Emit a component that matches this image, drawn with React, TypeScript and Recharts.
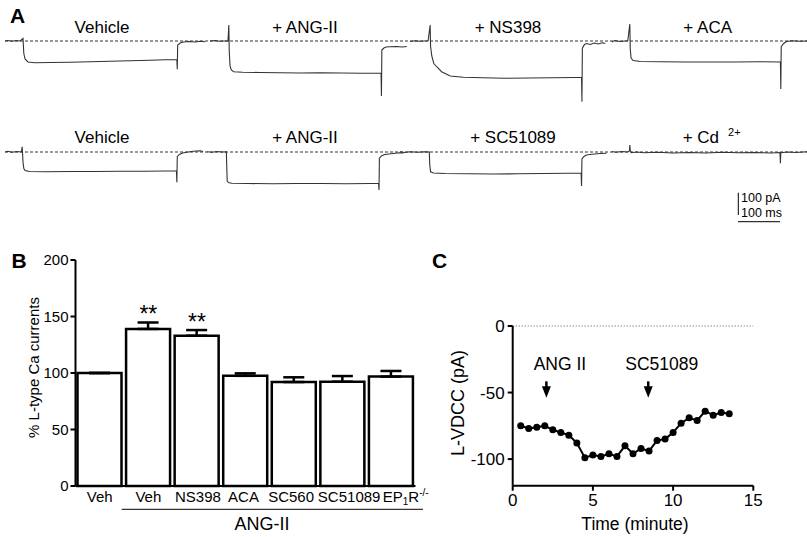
import React from 'react';
import {
  LineChart,
  Line,
  XAxis,
  YAxis,
  ReferenceLine,
  ReferenceDot,
  BarChart,
  Bar,
  ErrorBar,
} from 'recharts';

const FONT = '"Liberation Sans", Arial, Helvetica, sans-serif';

// ---------------- Panel A: current traces (time in ms, current in pA) ----------------
const segStartTop = [0, 501, 990, 1483];
const segStartBottom = [0, 494, 965, 1483];
const labelsTop = ['Vehicle', '+ ANG-II', '+ NS398', '+ ACA'];
const labelsBottom = ['Vehicle', '+ ANG-II', '+ SC51089', '+ Cd'];

const traceVehicleTop: [number, number][] = [
  [0, 0], [7, 2], [17, -1], [27, 2], [37, 0], [44, 10], [46, -50], [49, -72], [56, -84],
  [73, -87], [110, -86], [159, -85], [208, -83], [257, -81], [306, -79], [354, -77],
  [391, -75], [420, -74], [421, -113], [422, -16], [428, -8], [436, -4], [450, -2],
  [464, -4], [477, -1], [489, -3],
];
const traceAngTop: [number, number][] = [
  [0, 0], [12, 2], [24, -1], [44, 1], [46, 64], [47, -40], [49, -100], [52, -116],
  [58, -123], [80, -125], [120, -126], [170, -127], [220, -128], [270, -127], [320, -128],
  [370, -129], [418, -128], [419, -220], [420, -36], [425, -28], [430, -24], [440, -23],
  [455, -22], [470, -24], [481, -22],
];
const traceNsTop: [number, number][] = [
  [0, -2], [12, 1], [24, -1], [44, 1], [49, 64], [50, -20], [53, -60], [58, -90],
  [65, -103], [77, -123], [98, -140], [130, -145], [178, -147], [230, -149], [290, -148],
  [350, -147], [400, -146], [419, -146], [420, -243], [421, -29], [426, -14], [432, -10],
  [440, -14], [450, -8], [460, -12], [470, -7], [477, -10],
];
const traceAcaTop: [number, number][] = [
  [0, -4], [7, 2], [20, -2], [39, 1], [44, 68], [45, -30], [47, -68], [52, -78],
  [70, -82], [120, -83], [180, -84], [240, -84], [300, -84], [360, -83], [412, -84],
  [413, -192], [414, -23], [420, -10], [427, -2], [440, 1], [460, -1], [477, 0],
];
const traceVehicleBottom: [number, number][] = [
  [0, 0], [7, 3], [17, -1], [30, 2], [40, 0], [42, 21], [44, -40], [46, -66], [49, -74],
  [60, -78], [100, -79], [160, -78], [220, -78], [280, -77], [340, -77], [390, -76],
  [419, -76], [420, -121], [421, -19], [426, -10], [434, -4], [444, -1], [460, 3],
  [477, 5], [484, 2],
];
const traceAngBottom: [number, number][] = [
  [0, 1], [12, -1], [24, 2], [36, 0], [47, 1], [48, -60], [49, -116], [52, -122],
  [60, -125], [100, -126], [160, -127], [220, -126], [280, -126], [340, -127], [400, -126],
  [419, -126], [420, -152], [421, -25], [426, -16], [432, -11], [439, -9], [455, -6],
  [470, -3], [480, -4],
];
const traceScBottom: [number, number][] = [
  [0, 1], [12, -2], [24, 1], [44, -1], [60, 1], [72, 0], [73, -50], [75, -79], [82, -84],
  [110, -86], [170, -87], [230, -88], [290, -87], [350, -86], [410, -85], [443, -85],
  [444, -136], [445, -28], [450, -18], [456, -12], [470, -9], [490, -6], [505, -5],
];
const traceCdBottom: [number, number][] = [
  [0, 2], [10, -1], [24, 2], [39, 0], [43, 4], [44, 28], [45, 6], [48, -3], [60, 0],
  [80, -3], [110, -1], [150, -4], [190, -2], [230, -4], [270, -1], [310, -3], [350, -2],
  [390, -4], [411, -2], [412, -45], [413, -3], [430, 0], [450, -2], [477, 1],
];

const tracesTop = [traceVehicleTop, traceAngTop, traceNsTop, traceAcaTop];
const tracesBottom = [traceVehicleBottom, traceAngBottom, traceScBottom, traceCdBottom];

const toPoints = (pts: [number, number][], start: number) =>
  pts.map(([t, v]) => ({ t: t + start, v }));

// ---------------- Panel B: % L-type Ca currents ----------------
const bCats = ['veh0', 'veh1', 'ns398', 'aca', 'sc560', 'sc51089', 'ep1r'];
const bLabels = ['Veh', 'Veh', 'NS398', 'ACA', 'SC560', 'SC51089', 'EP1R-/-'];
const bMeans = [100, 139, 133, 97.5, 92, 92.3, 96.8];
const bErrors = [0, 5.7, 5, 2.2, 4.2, 5, 5];
const bSig = ['', '**', '**', '', '', '', ''];
const bTicks = [0, 50, 100, 150, 200];

const bData = bCats.map((cat, i) => ({
  cat,
  mean: bMeans[i],
  err: bErrors[i],
  errRange: [0, bErrors[i]],
  sig: bSig[i],
}));

// ---------------- Panel C: L-VDCC time course ----------------
const cTimes = [
  0.5, 1, 1.5, 2, 2.5, 3, 3.5, 4, 4.5, 5, 5.5, 6, 6.5, 7, 7.5, 8, 8.5, 9, 9.5, 10, 10.5, 11,
  11.5, 12, 12.5, 13, 13.5,
];
const cCurrents = [
  -75, -77, -76, -75, -78, -80, -82, -88, -99, -97, -98, -96, -98, -90, -96, -92, -94, -86,
  -85, -80, -73, -69, -71, -64, -67, -65, -66,
];
const cArrowTimes = [2.1, 8.45];
const cArrowLabels = ['ANG II', 'SC51089'];
const cArrowTip = -54;
const cXTicks = [0, 5, 10, 15];
const cYTicks = [-100, -50, 0];

const cData = cTimes.map((t, i) => ({ t, v: cCurrents[i] }));

const bTickShift = [0, 0, 1, -2, -3, 6.5, 14.5];

const BTick = (props: any) => {
  const { x, y, index } = props;
  const label = bLabels[index];
  const dx = bTickShift[index] || 0;
  if (label === 'EP1R-/-') {
    return (
      <text x={x + dx} y={y} textAnchor="middle" fontSize={15} fontFamily={FONT} fill="#000">
        EP
        <tspan fontSize={10} dy={3}>1</tspan>
        <tspan dy={-3}>R</tspan>
        <tspan fontSize={10} dy={-6}>-/-</tspan>
      </text>
    );
  }
  return (
    <text x={x + dx} y={y} textAnchor="middle" fontSize={15} fontFamily={FONT} fill="#000">
      {label}
    </text>
  );
};

const makeArrow = (label: string) => (p: any) => {
  const { cx, cy } = p;
  return (
    <g>
      <line x1={cx} y1={cy - 16.5} x2={cx} y2={cy - 8} stroke="#000" strokeWidth={2.5} />
      <polygon
        points={`${cx - 4.5},${cy - 11.5} ${cx + 4.5},${cy - 11.5} ${cx},${cy}`}
        fill="#000"
      />
      <text
        x={cx + 13.5}
        y={cy - 27.5}
        textAnchor="middle"
        fontSize={17.5}
        fontFamily={FONT}
        fill="#000"
      >
        {label}
      </text>
    </g>
  );
};

const TraceRow = ({
  traces,
  starts,
  top,
}: {
  traces: [number, number][][];
  starts: number[];
  top: number;
}) => (
  <div style={{ position: 'absolute', left: 5, top }}>
    <LineChart width={802} height={90} margin={{ top: 0, right: 0, bottom: 0, left: 0 }}>
      <XAxis type="number" dataKey="t" domain={[0, 1960]} hide />
      <YAxis type="number" domain={[-260, 100]} hide />
      <ReferenceLine y={0} stroke="#333" strokeWidth={1} strokeDasharray="3 2" />
      {traces.map((tr, i) => (
        <Line
          key={i}
          data={toPoints(tr, starts[i])}
          dataKey="v"
          type="linear"
          stroke="#333"
          strokeWidth={1.1}
          dot={false}
          activeDot={false}
          isAnimationActive={false}
        />
      ))}
    </LineChart>
  </div>
);

export default function App() {
  const txt = { fontFamily: FONT, fill: '#000' } as const;
  return (
    <div
      style={{
        position: 'absolute',
        left: 0,
        top: 0,
        width: 807,
        height: 537,
        background: '#fff',
        overflow: 'hidden',
        fontFamily: FONT,
      }}
    >
      <TraceRow traces={tracesTop} starts={segStartTop} top={16} />
      <TraceRow traces={tracesBottom} starts={segStartBottom} top={127} />

      {/* Panel B */}
      <div style={{ position: 'absolute', left: 0, top: 250 }}>
        <BarChart
          width={440}
          height={287}
          data={bData}
          margin={{ top: 10, right: 24.5, bottom: 21, left: 0 }}
        >
          <XAxis
            dataKey="cat"
            interval={0}
            tick={<BTick />}
            tickLine={false}
            tickSize={0}
            tickMargin={16}
            height={30}
            axisLine={{ stroke: '#000', strokeWidth: 2 }}
          />
          <YAxis
            domain={[0, 200]}
            ticks={bTicks}
            width={75.5}
            tickSize={5}
            tickMargin={2}
            axisLine={{ stroke: '#000', strokeWidth: 2 }}
            tickLine={{ stroke: '#000', strokeWidth: 2 }}
            tick={{ fontSize: 15, fill: '#000', fontFamily: FONT }}
          />
          <Bar
            dataKey="mean"
            fill="#fff"
            stroke="#000"
            strokeWidth={2.5}
            barSize={44}
            isAnimationActive={false}
          >
            <ErrorBar
              dataKey="errRange"
              width={10.5}
              stroke="#000"
              strokeWidth={2.5}
              direction="y"
            />
          </Bar>
          {bData
            .filter((d) => d.sig)
            .map((d) => (
              <ReferenceDot
                key={d.cat}
                x={d.cat}
                y={d.mean + d.err}
                r={0}
                fill="none"
                stroke="none"
                label={{
                  value: d.sig,
                  position: 'top',
                  offset: 0,
                  fontSize: 23,
                  fill: '#000',
                  fontFamily: FONT,
                }}
              />
            ))}
        </BarChart>
      </div>

      {/* Panel C */}
      <div style={{ position: 'absolute', left: 420, top: 290 }}>
        <LineChart
          width={387}
          height={247}
          data={cData}
          margin={{ top: 36, right: 53.7, bottom: 21.3, left: 0 }}
        >
          <XAxis
            type="number"
            dataKey="t"
            domain={[0, 15]}
            ticks={cXTicks}
            height={30}
            tickSize={5}
            tickMargin={3}
            axisLine={{ stroke: '#000', strokeWidth: 2 }}
            tickLine={{ stroke: '#000', strokeWidth: 2 }}
            tick={{ fontSize: 17, fill: '#000', fontFamily: FONT }}
          />
          <YAxis
            type="number"
            domain={[-120, 0]}
            ticks={cYTicks}
            width={92.7}
            tickSize={5}
            tickMargin={3}
            axisLine={{ stroke: '#000', strokeWidth: 2 }}
            tickLine={{ stroke: '#000', strokeWidth: 2 }}
            tick={{ fontSize: 17, fill: '#000', fontFamily: FONT }}
          />
          <ReferenceLine y={0} stroke="#555" strokeWidth={1} strokeDasharray="1 2" />
          <Line
            dataKey="v"
            type="linear"
            stroke="#000"
            strokeWidth={2}
            dot={{ r: 3.5, fill: '#000', stroke: '#000', strokeWidth: 0 }}
            activeDot={false}
            isAnimationActive={false}
          />
          {cArrowTimes.map((t, i) => (
            <ReferenceDot
              key={i}
              x={t}
              y={cArrowTip}
              r={0}
              shape={makeArrow(cArrowLabels[i])}
            />
          ))}
        </LineChart>
      </div>

      {/* Free text & annotations */}
      <svg
        width={807}
        height={537}
        style={{ position: 'absolute', left: 0, top: 0, pointerEvents: 'none' }}
      >
        <text x={10} y={23} fontSize={21} fontWeight="bold" {...txt}>A</text>
        <text x={11.5} y={268} fontSize={21} fontWeight="bold" {...txt}>B</text>
        <text x={432} y={268} fontSize={21} fontWeight="bold" {...txt}>C</text>

        {[102, 305, 508, 707.7].map((cx, i) => (
          <text key={'t' + i} x={cx} y={33} fontSize={17} textAnchor="middle" {...txt}>
            {labelsTop[i]}
          </text>
        ))}
        {[102, 305, 513].map((cx, i) => (
          <text key={'b' + i} x={cx} y={143} fontSize={17} textAnchor="middle" {...txt}>
            {labelsBottom[i]}
          </text>
        ))}
        <text x={682.7} y={143} fontSize={17} {...txt}>
          {labelsBottom[3]}
          <tspan dx={9} dy={-7} fontSize={11}>2+</tspan>
        </text>

        {/* scale bar */}
        <line x1={738.3} y1={192.7} x2={738.3} y2={215} stroke="#000" strokeWidth={1} />
        <line x1={738} y1={221.7} x2={780} y2={221.7} stroke="#000" strokeWidth={1} />
        <text x={741} y={202} fontSize={12.5} {...txt}>100 pA</text>
        <text x={741} y={217} fontSize={12.5} {...txt}>100 ms</text>

        {/* Panel B labels */}
        <text
          transform="translate(33,367.5) rotate(-90)"
          fontSize={15}
          textAnchor="middle"
          dominantBaseline="central"
          {...txt}
        >
          % L-type Ca currents
        </text>
        <line x1={121.7} y1={509.3} x2={423} y2={509.3} stroke="#000" strokeWidth={1} />
        <text x={262} y={530} fontSize={18} textAnchor="middle" {...txt}>ANG-II</text>

        {/* Panel C labels */}
        <text
          transform="translate(458,403) rotate(-90)"
          fontSize={18}
          textAnchor="middle"
          dominantBaseline="central"
          {...txt}
        >
          L-VDCC (pA)
        </text>
        <text x={635} y={530} fontSize={17.5} textAnchor="middle" {...txt}>
          Time (minute)
        </text>
      </svg>
    </div>
  );
}
